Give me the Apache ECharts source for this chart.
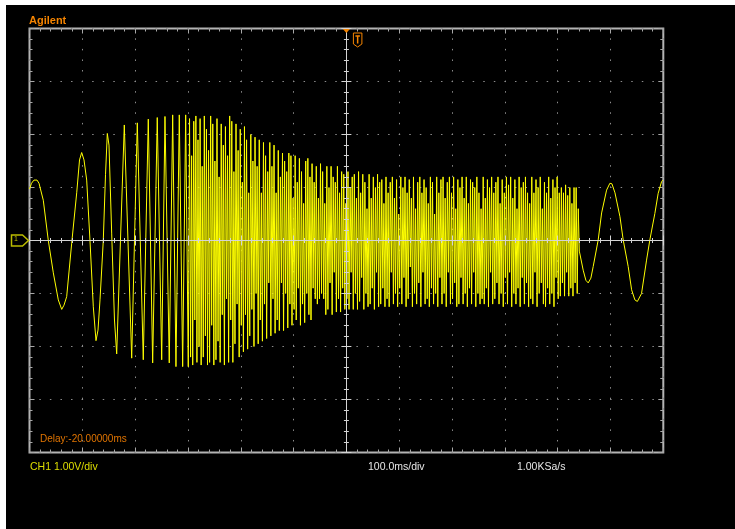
<!DOCTYPE html>
<html><head><meta charset="utf-8">
<script src="https://cdn.jsdelivr.net/npm/echarts@6/dist/echarts.min.js"></script>
<style>html,body{margin:0;padding:0;background:#fff;overflow:hidden}#c{width:735px;height:529px}</style>
</head><body><div id="c"></div>
<script>
// ---- data (time in ms from screen centre, volts) ----
const startTimesMs = [-600,-596.2,-591.5,-585.8,-582,-573.9,-564.4,-554.9,-545.5,-539,
  -534.7,-529.6,-520.1,-510.6,-505.3,-501.2,-496.8,-491.7,-485.5,-479.2,
  -474.1,-470.3,-466.5,-460.3,-456.1,-452.7,-449.5,-444.4,-439.1,-434.9,
  -420.5,-406.5,-395.9,-384.6,-375.1,-366.8,-358.1,-349.7,-343.5,-335.4,
  -328.9,-322.7,-316.4,-310,-304.3,-299.4];
const startVolts = [0.97,1.08,1.14,1.14,1.08,0.76,0.0,-0.61,-1.12,-1.30,
  -1.22,-1.06,-0.05,0.90,1.52,1.66,1.52,1.14,0.0,-1.25,
  -1.89,-1.69,-1.12,0.0,1.24,2.02,1.80,0.14,-1.5,-2.14,
  2.18,-2.22,2.22,-2.25,2.29,-2.31,2.32,-2.25,2.34,-2.31,
  2.37,-2.38,2.37,-2.38,2.37,-2.38];
const denseStartMs = -297;
const denseStepMs = 2;
const denseVolts = [
  2.3,-2.2,1.6,-2.35,2.25,-1.5,2.35,-2.3,1.9,-2.0,
  2.3,-2.35,1.4,-2.2,2.35,-1.8,2.1,-2.35,1.7,-2.3,
  2.35,-1.6,2.2,-2.35,1.5,-2.25,2.3,-1.9,1.2,-2.3,
  2.2,-1.4,1.8,-2.35,2.15,-1.1,1.6,-2.3,2.35,
  -1.5,2.25,-2.3,1.3,-1.95,2.2,-1.2,1.7,-2.2,2.1,
  -1.6,1.1,-2.1,2.15,-1.4,1.9,-2.05,0.9,-1.8,
  2.0,-1.3,1.5,-2.0,1.95,-1.0,1.4,-1.95,1.9,-1.5,
  0.9,-1.9,1.85,-1.2,1.6,-1.85,1.3,-0.8,1.85,
  -1.8,1.4,-1.1,1.8,-1.75,0.9,-1.5,1.7,-1.7,1.2,
  -0.8,1.65,-1.7,1.5,-1.0,1.3,-1.65,1.65,-1.2,
  1.6,-1.6,0.8,-1.3,1.6,-1.5,1.1,-0.9,1.55,-1.6,
  1.3,-1.2,0.7,-1.55,1.5,-1.0,1.55,-1.4,1.2,
  -1.5,1.45,-0.9,1.1,-1.1,1.4,-1.2,0.8,-1.1,1.45,
  -1.0,1.3,-1.1,0.7,-1.4,1.4,-1.3,1.0,-0.8,1.4,
  -1.4,1.2,-0.6,1.1,-1.35,1.4,-1.1,0.9,
  -1.35,1.3,-0.9,1.25,-1.3,0.7,-1.1,1.3,-1.3,1.0,
  -0.6,1.2,-1.3,1.25,-1.0,0.8,-1.3,1.3,-1.15,0.9,
  -0.7,1.25,-1.3,1.1,-1.0,0.6,-1.25,1.25,-1.2,0.8,
  -0.9,1.2,-1.3,1.0,-0.6,1.25,-1.25,1.1,
  -1.2,1.15,-0.9,0.7,-1.25,1.2,-1.1,0.9,-1.25,1.1,
  -0.6,1.2,-1.2,0.8,-1.0,1.15,-1.25,0.5,-0.9,1.2,
  -1.2,1.0,-0.7,1.2,-1.25,0.9,-1.1,1.15,-0.5,0.8,
  -1.25,1.2,-1.0,0.6,-1.2,1.1,-0.8,1.2,-1.25,0.9,
  -0.6,1.15,-1.2,1.0,-1.1,0.7,-1.25,1.2,-0.9,1.1,
  -1.2,0.5,-1.0,1.2,-1.25,0.9,-0.7,1.15,-1.2,1.2,
  -1.0,0.8,-1.25,1.1,-0.6,1.2,-1.2,0.9,-1.1,1.2,
  -0.8,0.6,-1.25,1.15,-1.2,1.0,-0.7,1.2,-1.2,0.8,
  -1.0,1.2,-1.25,0.7,-0.9,1.15,-1.2,1.1,-0.6,1.0,
  -1.25,1.2,-1.0,0.9,-1.2,0.6,-1.1,1.2,-1.2,0.8,
  -0.9,1.15,-1.25,1.0,-0.6,1.2,-1.2,0.9,-1.1,1.1,
  -0.8,1.2,-1.2,0.7,-1.0,1.15,-1.25,0.9,-0.7,1.2,
  -1.2,1.05,-0.6,1.2,-1.25,0.8,-1.0,1.15,-1.2,0.6,
  -0.9,1.2,-1.25,1.0,-0.7,1.1,-1.2,1.2,-0.8,0.9,
  -1.25,0.7,-1.1,1.2,-1.2,0.9,-0.6,1.15,-1.25,1.0,
  -1.0,1.2,-0.8,0.6,-1.2,1.1,-1.25,0.9,-0.9,1.2,
  -1.2,0.8,-1.0,1.15,-1.25,1.0,-0.7,1.2,-1.1,0.9,
  -1.05,1.0,-0.8,0.9,-1.05,1.05,-0.6,0.85,-1.05,1.0,
  -0.9,0.7,-1.05,1.0,-0.8,1.0,-1.0,0.6,-0.2];
const endTimesMs = [448.3,453.4,457.8,462.9,467.3,476.7,483.2,492.6,498.9,502.7,
  508.5,517.9,524.1,533.5,540,546.2,550.9,558.8,568.3,574.5,584,590.3,596.7,599];
const endVolts = [-0.56,-0.75,-0.80,-0.71,-0.49,0.01,0.52,0.95,1.08,1.07,
  0.90,0.45,0.01,-0.49,-0.93,-1.12,-1.15,-1.0,-0.37,0.01,0.51,0.89,1.11,1.14];

const timeRange = [-600, 600, 100];   // 12 divisions of 100 ms
const voltRange = [-4, 4, 1];         // 8 divisions of 1 V
const texts = { brand: 'Agilent', delay: 'Delay:-20.00000ms', channel: 'CH1 1.00V/div',
  timebase: '100.0ms/div', rate: '1.00KSa/s', ground: '1' };

// ---- build ----
const wave = [];
startTimesMs.forEach((t, i) => wave.push([t, startVolts[i]]));
denseVolts.forEach((v, i) => wave.push([denseStartMs + i * denseStepMs, v]));
endTimesMs.forEach((t, i) => wave.push([t, endVolts[i]]));

const borderGray = '#a8a8a8';
const centreGray = '#d4d4d4';
const orange = '#f58400';

function axisBase(range, position, extra) {
  return Object.assign({
    type: 'value', min: range[0], max: range[1], interval: range[2], position: position,
    axisLine: { show: false, onZero: false },
    axisTick: { show: true, inside: true, length: 5, lineStyle: { color: borderGray, width: 1 } },
    minorTick: { show: true, splitNumber: 5, length: 3, lineStyle: { color: borderGray, width: 1 } },
    axisLabel: { show: false },
    splitLine: { show: false },
    minorSplitLine: { show: false },
    axisPointer: { show: false }
  }, extra || {});
}
function centreAxis(range, position) {
  return axisBase(range, position, {
    z: 5,
    axisLine: { show: true, onZero: true, onZeroAxisIndex: 0, lineStyle: { color: centreGray, width: 1 } },
    axisTick: { show: true, inside: true, length: 5, lineStyle: { color: centreGray, width: 1 } },
    minorTick: { show: true, splitNumber: 5, length: 2.5, lineStyle: { color: centreGray, width: 1 } }
  });
}
const dotted = { show: true, lineStyle: { color: '#8c8c8c', width: 1, type: [1.5, 9.07], dashOffset: 0.75 } };

const chart = echarts.init(document.getElementById('c'), null, { renderer: 'canvas' });
chart.setOption({
  backgroundColor: '#000',
  animation: false,
  grid: { left: 29.5, top: 28.5, width: 633.8, height: 424, show: true, borderColor: '#b4b4b4',
          borderWidth: 2, backgroundColor: 'transparent', containLabel: false, outerBoundsMode: 'none' },
  xAxis: [
    axisBase(timeRange, 'bottom', { splitLine: dotted }),
    axisBase(timeRange, 'top'),
    centreAxis(timeRange, 'bottom'),
    centreAxis(timeRange, 'top')
  ],
  yAxis: [
    axisBase(voltRange, 'left', { splitLine: dotted }),
    axisBase(voltRange, 'right'),
    centreAxis(voltRange, 'left'),
    centreAxis(voltRange, 'right')
  ],
  series: [{
    type: 'line', xAxisIndex: 0, yAxisIndex: 0, data: wave, showSymbol: false, symbol: 'none',
    sampling: null, z: 3, clip: true,
    lineStyle: { color: '#ffff00', width: 1 }, itemStyle: { color: '#ffff00' }
  }]
});

const c0 = chart.convertToPixel({ xAxisIndex: 0, yAxisIndex: 0 }, [0, 0]);
const lt = chart.convertToPixel({ xAxisIndex: 0, yAxisIndex: 0 }, [timeRange[0], voltRange[1]]);
const cx = c0[0], cy = c0[1], gl = lt[0], gt = lt[1];
const font = '"Liberation Sans", Arial, sans-serif';
chart.setOption({
  graphic: [
    { type: 'rect', shape: { x: 0, y: 0, width: 735, height: 5 }, style: { fill: '#fff' }, z: 100 },
    { type: 'rect', shape: { x: 0, y: 0, width: 6, height: 529 }, style: { fill: '#fff' }, z: 100 },
    { type: 'text', x: gl - 0.5, y: gt - 13.5, style: { text: texts.brand, fill: orange, font: 'bold 11px ' + font }, z: 100 },
    { type: 'text', x: 40, y: 434, style: { text: texts.delay, fill: '#e07400', font: '10px ' + font }, z: 100 },
    { type: 'text', x: 30, y: 461.5, style: { text: texts.channel, fill: '#dede00', font: '10.5px ' + font }, z: 100 },
    { type: 'text', x: 368, y: 461.5, style: { text: texts.timebase, fill: '#e6e6e6', font: '10.5px ' + font }, z: 100 },
    { type: 'text', x: 517, y: 461.5, style: { text: texts.rate, fill: '#e6e6e6', font: '10.5px ' + font }, z: 100 },
    // ground marker
    { type: 'polygon', shape: { points: [[11.5, cy - 5.5], [22.5, cy - 5.5], [gl - 1, cy], [22.5, cy + 5.5], [11.5, cy + 5.5]] },
      style: { fill: 'none', stroke: '#bcbc00', lineWidth: 1.5 }, z: 100 },
    { type: 'text', x: 14, y: cy - 5, style: { text: texts.ground, fill: '#bcbc00', font: '7px ' + font }, z: 100 },
    // trigger markers
    { type: 'polygon', shape: { points: [[cx - 3.5, gt + 0.5], [cx + 3.5, gt + 0.5], [cx, gt + 4.5]] },
      style: { fill: orange }, z: 100 },
    { type: 'polygon', shape: { points: [[cx + 7, gt + 4.5], [cx + 15.5, gt + 4.5], [cx + 15.5, gt + 15.5], [cx + 11.25, gt + 18.5], [cx + 7, gt + 15.5]] },
      style: { fill: 'none', stroke: orange, lineWidth: 1 }, z: 100 },
    { type: 'polyline', shape: { points: [[cx + 9, gt + 7.5], [cx + 13.5, gt + 7.5]] }, style: { stroke: orange, lineWidth: 1.5 }, z: 100 },
    { type: 'polyline', shape: { points: [[cx + 11.25, gt + 7.5], [cx + 11.25, gt + 15]] }, style: { stroke: orange, lineWidth: 1.5 }, z: 100 }
  ]
});
</script></body></html>
